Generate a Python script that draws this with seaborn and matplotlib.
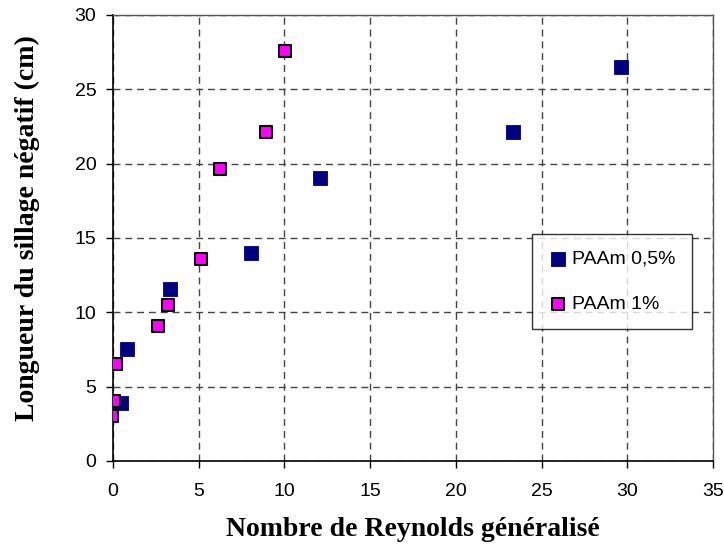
import matplotlib
matplotlib.use("Agg")
import matplotlib.pyplot as plt
import seaborn as sns
import pandas as pd

# Data
x_05 = [0.47, 0.84, 3.33, 8.06, 12.05, 23.3, 29.6]
y_05 = [3.9, 7.55, 11.55, 14.0, 19.05, 22.1, 26.5]
x_1 = [-0.04, 0.08, 0.16, 2.65, 3.23, 5.14, 6.23, 8.93, 10.02]
y_1 = [3.0, 4.05, 6.55, 9.05, 10.5, 13.6, 19.6, 22.1, 27.55]
series_names = ["PAAm 0,5%", "PAAm 1%"]
x_label = "Nombre de Reynolds généralisé"
y_label = "Longueur du sillage négatif (cm)"
x_ticks = [0, 5, 10, 15, 20, 25, 30, 35]
y_ticks = [0, 5, 10, 15, 20, 25, 30]

df05 = pd.DataFrame({"x": x_05, "y": y_05, "s": series_names[0]})
df1 = pd.DataFrame({"x": x_1, "y": y_1, "s": series_names[1]})

sns.set_theme(style="white")
plt.rcParams["font.family"] = ["Liberation Sans", "DejaVu Sans"]
plt.rcParams["text.color"] = "black"
plt.rcParams["axes.labelcolor"] = "black"

fig = plt.figure(figsize=(7.24, 5.5), dpi=100)
ax = fig.add_axes([0.156, 0.162, 0.829, 0.811])

sns.scatterplot(data=df05, x="x", y="y", marker="s", s=90, color="#000080",
                edgecolor="#000080", linewidth=0.6, label=series_names[0], ax=ax, zorder=3)
sns.scatterplot(data=df1, x="x", y="y", marker="s", s=80, color="#FF00FF",
                edgecolor="black", linewidth=1.5, label=series_names[1], ax=ax, zorder=4)

ax.set_xlim(0, 35)
ax.set_ylim(0, 30)
ax.set_xticks(x_ticks)
ax.set_yticks(y_ticks)
ax.tick_params(axis="both", labelsize=14, colors="black", direction="out", length=5, width=1,
               left=True, bottom=True)
ax.tick_params(axis="x", pad=11)
ax.tick_params(axis="y", pad=7)
ax.grid(True, color="#444444", linestyle=(0, (5, 3.5)), linewidth=1.0)
ax.set_axisbelow(True)
for side in ["left", "bottom"]:
    ax.spines[side].set_color("black")
    ax.spines[side].set_linewidth(1.2)
for side in ["top", "right"]:
    ax.spines[side].set_color("#555555")
    ax.spines[side].set_linewidth(1.0)

ax.set_xlabel(x_label, fontsize=20, fontweight="bold", family="Liberation Serif", labelpad=12)
ax.set_ylabel(y_label, fontsize=20, fontweight="bold", family="Liberation Serif")
ax.yaxis.set_label_coords(-0.122, 0.522)

leg = ax.legend(loc="upper left", bbox_to_anchor=(0.698, 0.509), fontsize=14, frameon=True,
                fancybox=False, edgecolor="black", labelspacing=1.4, handletextpad=0.2,
                borderpad=0.85, handlelength=1.0, borderaxespad=0)
leg.get_frame().set_linewidth(1.0)

fig.savefig("out.png", dpi=100)
